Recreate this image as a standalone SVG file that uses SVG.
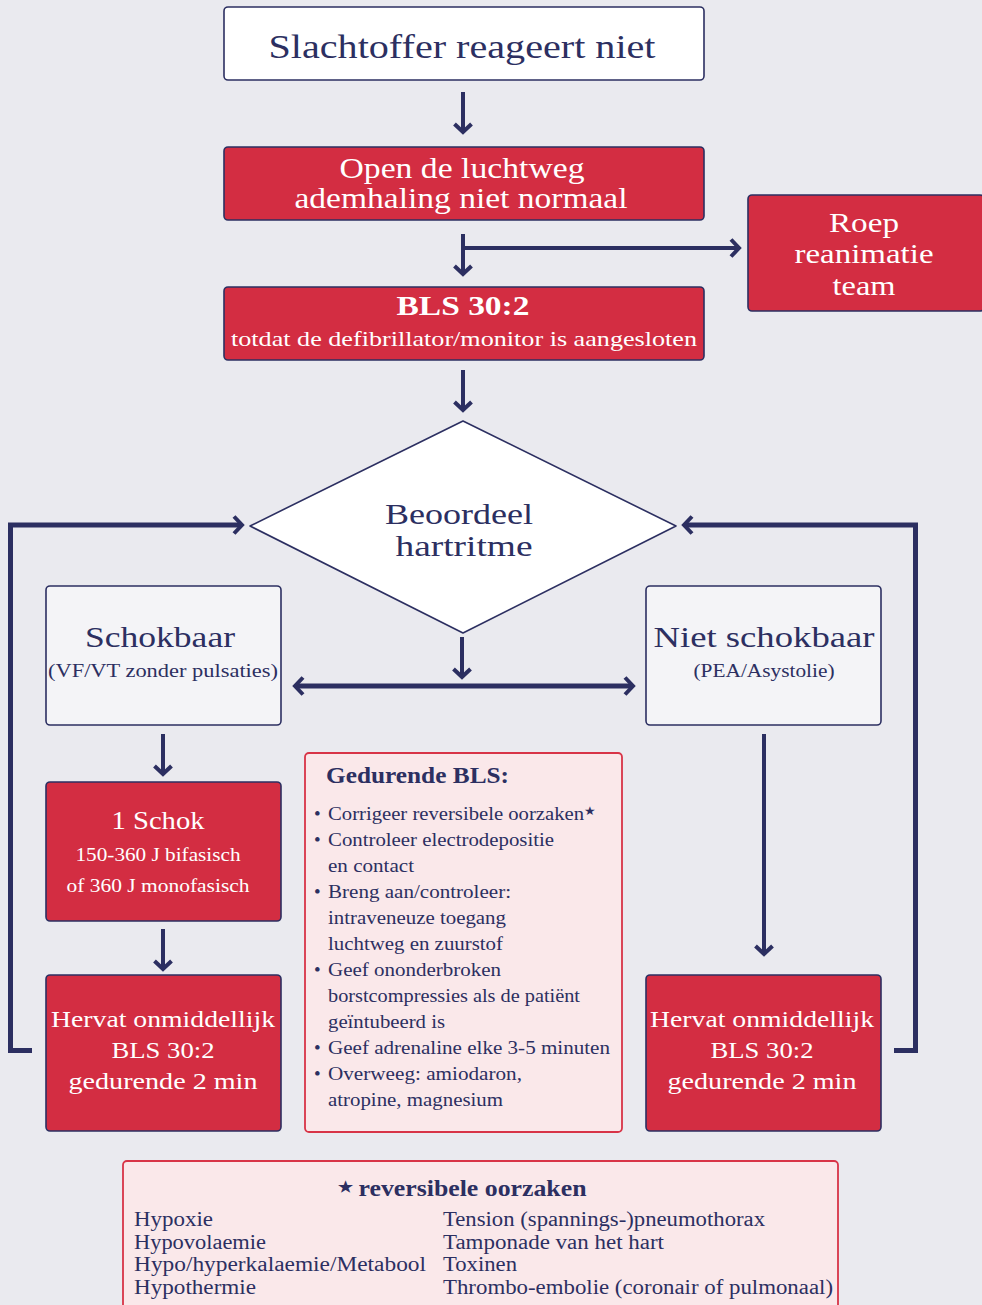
<svg xmlns="http://www.w3.org/2000/svg" width="982" height="1305" viewBox="0 0 982 1305">
<defs>
<style>
.bg{fill:#EAEAEF}
.wbox{fill:#FFFFFF;stroke:#2C2F61;stroke-width:1.6}
.gbox{fill:#F4F4F7;stroke:#2C2F61;stroke-width:1.6}
.rbox{fill:#D32D42;stroke:#2C2F61;stroke-width:1.6}
.pbox{fill:#FAE8EA;stroke:#D83447;stroke-width:1.8}
text{font-family:'Liberation Serif','Times New Roman',Times,serif}
.t{text-anchor:middle}
.nv{fill:#2C2F61}
.wt{fill:#FFFFFF}
.l{fill:#2C2F61}
.c{fill:none;stroke:#2C2F61;stroke-width:4}
.c5{fill:none;stroke:#2C2F61;stroke-width:5}
</style>
<marker id="ah" markerUnits="userSpaceOnUse" viewBox="0 0 20 20" markerWidth="20" markerHeight="20" refX="17" refY="10" orient="auto-start-reverse">
<path d="M9,1.5 L17,10 L9,18.5" fill="none" stroke="#2C2F61" stroke-width="4"/>
</marker>
</defs>
<rect class="bg" x="0" y="0" width="982" height="1305"/>

<g id="connectors">
<line class="c" x1="463" y1="92" x2="463" y2="132" marker-end="url(#ah)"/>
<line class="c" x1="463" y1="234" x2="463" y2="274" marker-end="url(#ah)"/>
<line class="c" x1="463" y1="248" x2="739" y2="248" marker-end="url(#ah)"/>
<line class="c" x1="463" y1="370" x2="463" y2="410" marker-end="url(#ah)"/>
<line class="c" x1="462" y1="637" x2="462" y2="677" marker-end="url(#ah)"/>
<line class="c5" x1="295" y1="686" x2="633" y2="686" marker-start="url(#ah)" marker-end="url(#ah)"/>
<line class="c" x1="163" y1="734" x2="163" y2="774" marker-end="url(#ah)"/>
<line class="c" x1="163" y1="929" x2="163" y2="969" marker-end="url(#ah)"/>
<line class="c" x1="764" y1="734" x2="764" y2="954" marker-end="url(#ah)"/>
<polyline class="c5" points="32,1050.5 10.5,1050.5 10.5,525 242,525" marker-end="url(#ah)"/>
<polyline class="c5" points="894,1050.5 915.5,1050.5 915.5,525 684,525" marker-end="url(#ah)"/>
</g>

<g id="start">
<rect class="wbox" x="224" y="7" width="480" height="73" rx="4"/>
<text class="t nv" x="462" y="58" font-size="34" textLength="387" lengthAdjust="spacingAndGlyphs">Slachtoffer reageert niet</text>
</g>

<g id="airway">
<rect class="rbox" x="224" y="147" width="480" height="73" rx="4"/>
<text class="t wt" x="462" y="178" font-size="29" textLength="245" lengthAdjust="spacingAndGlyphs">Open de luchtweg</text>
<text class="t wt" x="461" y="208" font-size="29" textLength="333" lengthAdjust="spacingAndGlyphs">ademhaling niet normaal</text>
</g>

<g id="call-team">
<rect class="rbox" x="748" y="195" width="236" height="116" rx="4"/>
<text class="t wt" x="864" y="232" font-size="28" textLength="70" lengthAdjust="spacingAndGlyphs">Roep</text>
<text class="t wt" x="864" y="263" font-size="28" textLength="139" lengthAdjust="spacingAndGlyphs">reanimatie</text>
<text class="t wt" x="864" y="295" font-size="28" textLength="63" lengthAdjust="spacingAndGlyphs">team</text>
</g>

<g id="bls">
<rect class="rbox" x="224" y="287" width="480" height="73" rx="4"/>
<text class="t wt" x="463" y="315" font-size="27" font-weight="bold" textLength="133" lengthAdjust="spacingAndGlyphs">BLS 30:2</text>
<text class="t wt" x="464" y="346" font-size="22" textLength="466" lengthAdjust="spacingAndGlyphs">totdat de defibrillator/monitor is aangesloten</text>
</g>

<g id="assess">
<polygon points="463,421 676,526 463,633 250,526" fill="#FFFFFF" stroke="#2C2F61" stroke-width="1.6" stroke-linejoin="round"/>
<text class="t nv" x="459" y="524" font-size="30" textLength="148" lengthAdjust="spacingAndGlyphs">Beoordeel</text>
<text class="t nv" x="464" y="556" font-size="30" textLength="137" lengthAdjust="spacingAndGlyphs">hartritme</text>
</g>

<g id="shockable">
<rect class="gbox" x="46" y="586" width="235" height="139" rx="4"/>
<text class="t nv" x="160" y="647" font-size="30" textLength="150" lengthAdjust="spacingAndGlyphs">Schokbaar</text>
<text class="t nv" x="163" y="677" font-size="18" textLength="230" lengthAdjust="spacingAndGlyphs">(VF/VT zonder pulsaties)</text>
</g>

<g id="non-shockable">
<rect class="gbox" x="646" y="586" width="235" height="139" rx="4"/>
<text class="t nv" x="764" y="647" font-size="30" textLength="221" lengthAdjust="spacingAndGlyphs">Niet schokbaar</text>
<text class="t nv" x="764" y="677" font-size="18" textLength="141" lengthAdjust="spacingAndGlyphs">(PEA/Asystolie)</text>
</g>

<g id="shock">
<rect class="rbox" x="46" y="782" width="235" height="139" rx="4"/>
<text class="t wt" x="158" y="829" font-size="26" textLength="93" lengthAdjust="spacingAndGlyphs">1 Schok</text>
<text class="t wt" x="158" y="861" font-size="19" textLength="165" lengthAdjust="spacingAndGlyphs">150-360 J bifasisch</text>
<text class="t wt" x="158" y="892" font-size="19" textLength="183" lengthAdjust="spacingAndGlyphs">of 360 J monofasisch</text>
</g>

<g id="resume-left">
<rect class="rbox" x="46" y="975" width="235" height="156" rx="4"/>
<text class="t wt" x="163" y="1027" font-size="24" textLength="224" lengthAdjust="spacingAndGlyphs">Hervat onmiddellijk</text>
<text class="t wt" x="163" y="1058" font-size="24" textLength="103" lengthAdjust="spacingAndGlyphs">BLS 30:2</text>
<text class="t wt" x="163" y="1089" font-size="24" textLength="189" lengthAdjust="spacingAndGlyphs">gedurende 2 min</text>
</g>

<g id="resume-right">
<rect class="rbox" x="646" y="975" width="235" height="156" rx="4"/>
<text class="t wt" x="762" y="1027" font-size="24" textLength="224" lengthAdjust="spacingAndGlyphs">Hervat onmiddellijk</text>
<text class="t wt" x="762" y="1058" font-size="24" textLength="103" lengthAdjust="spacingAndGlyphs">BLS 30:2</text>
<text class="t wt" x="762" y="1089" font-size="24" textLength="189" lengthAdjust="spacingAndGlyphs">gedurende 2 min</text>
</g>

<g id="during-bls">
<rect class="pbox" x="305" y="753" width="317" height="379" rx="4"/>
<text class="l" x="326" y="783" font-size="23" font-weight="bold" textLength="183" lengthAdjust="spacingAndGlyphs">Gedurende BLS:</text>
<g font-size="19">
<text class="l" x="314" y="820">•</text><text class="l" x="328" y="820" textLength="268" lengthAdjust="spacingAndGlyphs">Corrigeer reversibele oorzaken<tspan font-size="12" dy="-5">★</tspan></text>
<text class="l" x="314" y="846">•</text><text class="l" x="328" y="846" textLength="226" lengthAdjust="spacingAndGlyphs">Controleer electrodepositie</text>
<text class="l" x="328" y="872" textLength="86" lengthAdjust="spacingAndGlyphs">en contact</text>
<text class="l" x="314" y="898">•</text><text class="l" x="328" y="898" textLength="183" lengthAdjust="spacingAndGlyphs">Breng aan/controleer:</text>
<text class="l" x="328" y="924" textLength="178" lengthAdjust="spacingAndGlyphs">intraveneuze toegang</text>
<text class="l" x="328" y="950" textLength="175" lengthAdjust="spacingAndGlyphs">luchtweg en zuurstof</text>
<text class="l" x="314" y="976">•</text><text class="l" x="328" y="976" textLength="173" lengthAdjust="spacingAndGlyphs">Geef ononderbroken</text>
<text class="l" x="328" y="1002" textLength="252" lengthAdjust="spacingAndGlyphs">borstcompressies als de patiënt</text>
<text class="l" x="328" y="1028" textLength="117" lengthAdjust="spacingAndGlyphs">geïntubeerd is</text>
<text class="l" x="314" y="1054">•</text><text class="l" x="328" y="1054" textLength="282" lengthAdjust="spacingAndGlyphs">Geef adrenaline elke 3-5 minuten</text>
<text class="l" x="314" y="1080">•</text><text class="l" x="328" y="1080" textLength="194" lengthAdjust="spacingAndGlyphs">Overweeg: amiodaron,</text>
<text class="l" x="328" y="1106" textLength="175" lengthAdjust="spacingAndGlyphs">atropine, magnesium</text>
</g>
</g>

<g id="reversible-causes">
<rect class="pbox" x="123" y="1161" width="715" height="160" rx="4"/>
<text class="t nv" x="462" y="1196" font-size="23" font-weight="bold" textLength="249" lengthAdjust="spacingAndGlyphs"><tspan font-size="15" dy="-4">★</tspan><tspan dy="4"> reversibele oorzaken</tspan></text>
<g font-size="20">
<text class="l" x="134" y="1226" textLength="79" lengthAdjust="spacingAndGlyphs">Hypoxie</text>
<text class="l" x="134" y="1249" textLength="132" lengthAdjust="spacingAndGlyphs">Hypovolaemie</text>
<text class="l" x="134" y="1271" textLength="292" lengthAdjust="spacingAndGlyphs">Hypo/hyperkalaemie/Metabool</text>
<text class="l" x="134" y="1294" textLength="122" lengthAdjust="spacingAndGlyphs">Hypothermie</text>
<text class="l" x="443" y="1226" textLength="322" lengthAdjust="spacingAndGlyphs">Tension (spannings-)pneumothorax</text>
<text class="l" x="443" y="1249" textLength="221" lengthAdjust="spacingAndGlyphs">Tamponade van het hart</text>
<text class="l" x="443" y="1271" textLength="74" lengthAdjust="spacingAndGlyphs">Toxinen</text>
<text class="l" x="443" y="1294" textLength="390" lengthAdjust="spacingAndGlyphs">Thrombo-embolie (coronair of pulmonaal)</text>
</g>
</g>
</svg>
